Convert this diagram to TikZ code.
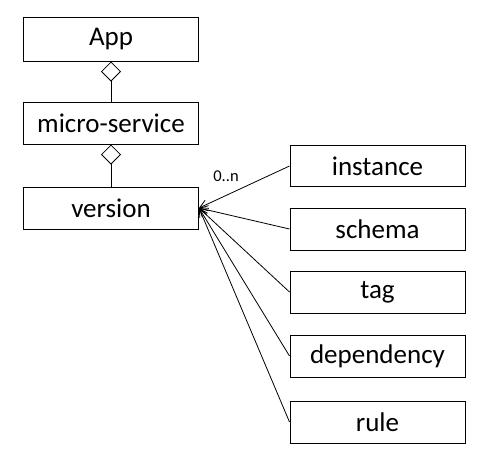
\documentclass[tikz,border=0pt]{standalone}
\usepackage{fontspec}
\setmainfont{Carlito}
\usetikzlibrary{arrows.meta}
\begin{document}
\begin{tikzpicture}[x=1pt,y=-1pt,
  box/.style={draw,line width=1pt,minimum width=175pt,minimum height=42pt,inner sep=0pt,font=\fontsize{27}{30}\selectfont},
  agg/.style={line width=0.8pt,{Diamond[open,length=20pt,width=20pt]}-},
  dep/.style={line width=0.8pt,-{Straight Barb[length=8pt,width=9pt]}}]
\useasboundingbox (0,0) rectangle (483,467);
\node[box,minimum height=44pt] (app) at (111,39) {App};
\node[box] (ms) at (111,123) {micro-service};
\node[box] (ver) at (111,208) {version};
\node[box,minimum height=41pt] (inst) at (377.5,166) {instance};
\node[box] (sch) at (377.5,229) {schema};
\node[box] (tag) at (377.5,292) {tag};
\node[box] (dep) at (377.5,356) {dependency};
\node[box] (rule) at (377.5,422) {rule};
\draw[agg] (app.south) -- (ms.north);
\draw[agg] (ms.south) -- (ver.north);
\foreach \n in {inst,sch,tag,dep,rule}
  \draw[dep] (\n.west) -- (ver.east);
\node[font=\fontsize{16.5}{18}\selectfont] (lbl) at (226,176) {0..n};
\end{tikzpicture}
\end{document}
